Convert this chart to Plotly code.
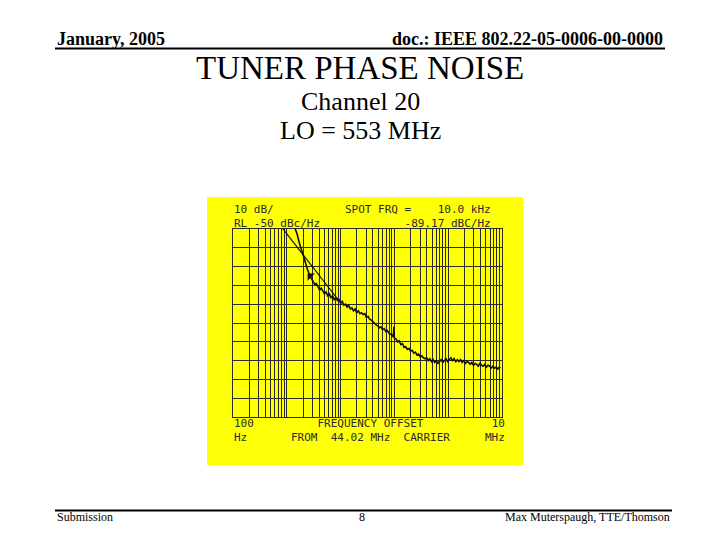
import plotly.graph_objects as go

# ---- data ----
# measured phase-noise trace: log10(offset frequency in Hz) and dBc/Hz
trace_log_f = [3.15, 3.19, 3.23, 3.27, 3.31, 3.35, 3.39, 3.43, 3.46, 3.49,
               3.52, 3.55, 3.58, 3.61, 3.64, 3.67, 3.70, 3.73, 3.76, 3.79,
               3.82, 3.85, 3.88, 3.91, 3.94, 3.97, 4.00, 4.03, 4.06, 4.09,
               4.12, 4.15, 4.18, 4.21, 4.24, 4.27, 4.30, 4.33, 4.36, 4.39,
               4.42, 4.45, 4.48, 4.51, 4.54, 4.57, 4.60, 4.63, 4.66, 4.69,
               4.72, 4.75, 4.78, 4.81, 4.84, 4.87, 4.90, 4.93, 4.96, 4.98,
               4.99, 5.00, 5.03, 5.06, 5.09, 5.12, 5.15, 5.18, 5.21, 5.24,
               5.27, 5.30, 5.33, 5.36, 5.39, 5.42, 5.45, 5.48, 5.51, 5.54,
               5.57, 5.60, 5.63, 5.66, 5.69, 5.72, 5.75, 5.78, 5.81, 5.84,
               5.87, 5.90, 5.93, 5.96, 5.99, 6.02, 6.05, 6.08, 6.11, 6.14,
               6.17, 6.20, 6.23, 6.26, 6.29, 6.32, 6.35, 6.38, 6.41, 6.44,
               6.47, 6.50, 6.53, 6.56, 6.59, 6.62, 6.65, 6.68, 6.71, 6.74,
               6.77, 6.80, 6.83, 6.86, 6.89, 6.92, 6.95, 6.97]
trace_dbc = [-49.5, -52.5, -57.0, -61.0, -64.5, -68.5, -72.0, -75.0, -76.5, -77.5,
             -79.5, -79.0, -81.0, -82.5, -81.5, -83.5, -84.5, -83.5, -85.5, -84.5,
             -86.5, -85.5, -87.5, -86.5, -88.0, -87.5, -89.5, -88.5, -90.5, -90.0,
             -91.5, -90.5, -92.5, -92.0, -93.5, -92.5, -94.5, -93.5, -95.0, -94.5,
             -95.5, -95.0, -97.0, -96.5, -98.0, -98.5, -99.5, -100.5, -101.0, -101.5,
             -102.5, -102.0, -103.5, -103.0, -104.5, -104.0, -105.5, -106.0, -106.5, -107.5,
             -102.0, -108.0, -108.5, -110.0, -109.5, -111.5, -111.0, -113.0, -112.5, -114.0,
             -113.5, -115.0, -114.5, -116.0, -115.5, -117.0, -116.5, -118.0, -117.5, -118.5,
             -119.0, -118.5, -120.0, -119.0, -120.5, -119.5, -121.0, -120.0, -121.5, -120.5,
             -119.5, -121.0, -120.0, -119.0, -120.5, -119.5, -118.5, -120.0, -119.0, -120.5,
             -119.5, -120.5, -119.5, -121.0, -120.0, -121.5, -120.5, -121.0, -122.0, -121.0,
             -122.5, -121.5, -122.0, -123.0, -121.5, -122.5, -123.0, -122.0, -123.5, -122.5,
             -123.0, -124.0, -123.0, -124.0, -123.5, -124.5, -123.5, -124.0]
trace_freq = [10 ** v for v in trace_log_f]

# straight reference slope line
slope_freq = [850, 8950]
slope_dbc = [-50.0, -87.5]

# marker on trace
marker_freq = [2700]
marker_dbc = [-75.0]

x_range_log = [2, 7]          # 100 Hz .. 10 MHz
y_range = [-150, -50]         # RL -50 dBc/Hz, 10 dB/div

# page has an 8px body margin: figure is 712x532 placed at (8, 8)
OFF = 8
W, H = 720 - OFF, 540 - OFF
def px(x): return (x - OFF) / W
def py(y): return 1 - (y - OFF) / H

YELLOW = "#FFFF08"
INK = "#2a2a2a"
MONO = "DejaVu Sans Mono"
SERIF = "Liberation Serif"

fig = go.Figure()
fig.add_trace(go.Scatter(x=slope_freq, y=slope_dbc, mode="lines",
                         line=dict(color="#111", width=1.2), hoverinfo="skip"))
fig.add_trace(go.Scatter(x=trace_freq, y=trace_dbc, mode="lines",
                         line=dict(color="#111", width=1.6), hoverinfo="skip"))
fig.add_trace(go.Scatter(x=marker_freq, y=marker_dbc, mode="markers",
                         marker=dict(symbol="triangle-nw", size=8, color="#111"),
                         hoverinfo="skip"))

fig.update_layout(
    width=W, height=H, margin=dict(l=0, r=0, t=0, b=0),
    paper_bgcolor="white", plot_bgcolor=YELLOW, showlegend=False,
    xaxis=dict(type="log", range=x_range_log, dtick="D1", showticklabels=False,
               showgrid=True, gridcolor=INK, gridwidth=1, zeroline=False,
               showline=True, mirror=True, linecolor=INK, linewidth=1,
               ticks="", domain=[px(233), px(502)]),
    yaxis=dict(range=y_range, dtick=10, showticklabels=False,
               showgrid=True, gridcolor=INK, gridwidth=1, zeroline=False,
               showline=True, mirror=True, linecolor=INK, linewidth=1,
               ticks="", domain=[py(417), py(229)]),
)

shapes = [
    dict(type="rect", xref="paper", yref="paper", x0=px(207), x1=px(523),
         y0=py(465), y1=py(197), fillcolor=YELLOW, line=dict(width=0), layer="below"),
    dict(type="line", xref="paper", yref="paper", x0=px(55), x1=px(665),
         y0=py(48.5), y1=py(48.5), line=dict(color="black", width=2)),
    dict(type="line", xref="paper", yref="paper", x0=px(55), x1=px(672),
         y0=py(510.5), y1=py(510.5), line=dict(color="black", width=2)),
]
fig.update_layout(shapes=shapes)

def txt(x, y, s, size, font=SERIF, xanchor="left", color="black"):
    fig.add_annotation(x=px(x), y=py(y), xref="paper", yref="paper", text=s,
                       showarrow=False, xanchor=xanchor, yanchor="middle",
                       align=xanchor if xanchor != "center" else "center",
                       font=dict(family=font, size=size, color=color))

# slide header / footer
txt(55, 39, "<b>January, 2005</b>", 18)
txt(665, 39, "<b>doc.: IEEE 802.22-05-0006-00-0000</b>", 18, xanchor="right")
txt(360, 68, "TUNER PHASE NOISE", 33, xanchor="center")
txt(360, 101, "Channel 20", 26, xanchor="center")
txt(360, 131, "LO = 553 MHz", 26, xanchor="center")
txt(55, 517, "Submission", 12)
txt(362, 517, "8", 12, xanchor="center")
txt(672, 517, "Max Muterspaugh, TTE/Thomson", 12, xanchor="right")

# analyzer screen texts
txt(232, 216.5, "10 dB/<br>RL -50 dBc/Hz", 11, MONO, color=INK)
txt(493, 216.5, "SPOT FRQ =    10.0 kHz<br>-89.17 dBC/Hz", 11, MONO, "right", INK)
txt(232, 430, "100<br>Hz", 11, MONO, color=INK)
txt(370, 430, "FREQUENCY OFFSET<br>FROM  44.02 MHz  CARRIER", 11, MONO, "center", INK)
txt(507, 430, "10<br>MHz", 11, MONO, "right", INK)

fig.write_html("out.html")
